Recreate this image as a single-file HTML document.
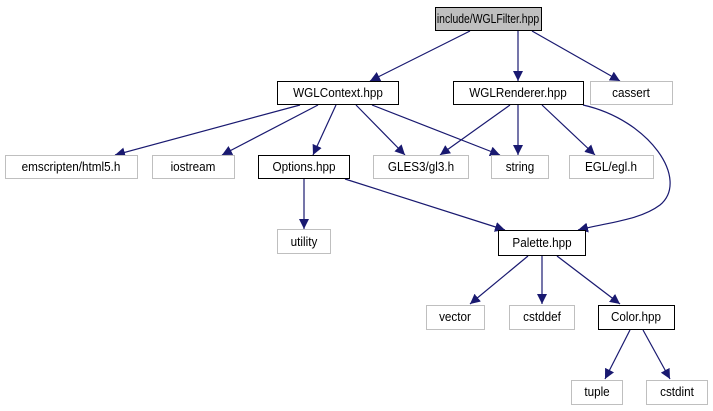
<!DOCTYPE html>
<html><head><meta charset="utf-8"><style>
html,body{margin:0;padding:0;background:#fff;}
svg{display:block;}
text{font-family:"Liberation Sans",sans-serif;font-size:13px;text-anchor:middle;fill:#000;}
</style></head><body>
<svg width="713" height="411" viewBox="0 0 713 411" xmlns="http://www.w3.org/2000/svg">
<defs>
<marker id="a" viewBox="0 0 10 10" refX="10" refY="5" markerWidth="10" markerHeight="10" markerUnits="userSpaceOnUse" orient="auto">
<path d="M0,0 L10,5 L0,10 z" fill="#191970"/>
</marker>
</defs>
<g stroke="#191970" stroke-width="1.2" fill="none" marker-end="url(#a)">
<line x1="470" y1="31" x2="370" y2="81"/>
<line x1="518" y1="31" x2="518" y2="81"/>
<line x1="532" y1="31" x2="620" y2="81"/>
<line x1="300" y1="105" x2="115" y2="155"/>
<line x1="318" y1="105" x2="222" y2="155"/>
<line x1="336" y1="105" x2="313" y2="155"/>
<line x1="356" y1="105" x2="405" y2="155"/>
<line x1="372" y1="105" x2="500" y2="155"/>
<line x1="510" y1="105" x2="440" y2="155"/>
<line x1="518" y1="105" x2="518" y2="155"/>
<line x1="542" y1="105" x2="595" y2="155"/>
<path d="M583,105 C650,120 690,180 660,205 C640,220 610,222 578,230"/>
<line x1="304" y1="179" x2="304" y2="229"/>
<line x1="345" y1="179" x2="505" y2="230"/>
<line x1="528" y1="256" x2="470" y2="304"/>
<line x1="542" y1="256" x2="542" y2="304"/>
<line x1="557" y1="256" x2="620" y2="304"/>
<line x1="630" y1="330" x2="605" y2="379"/>
<line x1="643" y1="330" x2="670" y2="379"/>
</g>
<g stroke-width="1">
<rect x="435.5" y="7.5" width="106" height="23" fill="#bfbfbf" stroke="#000"/>
<rect x="277.5" y="81.5" width="121" height="23" fill="#fff" stroke="#000"/>
<rect x="453.5" y="81.5" width="130" height="23" fill="#fff" stroke="#000"/>
<rect x="590.5" y="81.5" width="82" height="23" fill="#fff" stroke="#bfbfbf"/>
<rect x="5.5" y="155.5" width="132" height="23" fill="#fff" stroke="#bfbfbf"/>
<rect x="152.5" y="155.5" width="82" height="23" fill="#fff" stroke="#bfbfbf"/>
<rect x="258.5" y="155.5" width="91" height="23" fill="#fff" stroke="#000"/>
<rect x="373.5" y="155.5" width="95" height="23" fill="#fff" stroke="#bfbfbf"/>
<rect x="491.5" y="155.5" width="57" height="23" fill="#fff" stroke="#bfbfbf"/>
<rect x="569.5" y="155.5" width="84" height="23" fill="#fff" stroke="#bfbfbf"/>
<rect x="277.5" y="229.5" width="53" height="24" fill="#fff" stroke="#bfbfbf"/>
<rect x="498.5" y="230.5" width="87" height="25" fill="#fff" stroke="#000"/>
<rect x="426.5" y="305.5" width="58" height="24" fill="#fff" stroke="#bfbfbf"/>
<rect x="509.5" y="305.5" width="65" height="24" fill="#fff" stroke="#bfbfbf"/>
<rect x="598.5" y="305.5" width="76" height="24" fill="#fff" stroke="#000"/>
<rect x="571.5" y="380.5" width="51" height="24" fill="#fff" stroke="#bfbfbf"/>
<rect x="646.5" y="380.5" width="61" height="24" fill="#fff" stroke="#bfbfbf"/>
</g>
<g transform="translate(488,23) scale(0.8,1)"><text>include/WGLFilter.hpp</text></g>
<g transform="translate(338,97) scale(0.9,1)"><text>WGLContext.hpp</text></g>
<g transform="translate(518,97) scale(0.9,1)"><text>WGLRenderer.hpp</text></g>
<g transform="translate(631,97) scale(0.9,1)"><text>cassert</text></g>
<g transform="translate(71,171) scale(0.9,1)"><text>emscripten/html5.h</text></g>
<g transform="translate(193,171) scale(0.9,1)"><text>iostream</text></g>
<g transform="translate(304,171) scale(0.9,1)"><text>Options.hpp</text></g>
<g transform="translate(421,171) scale(0.9,1)"><text>GLES3/gl3.h</text></g>
<g transform="translate(520,171) scale(0.9,1)"><text>string</text></g>
<g transform="translate(611,171) scale(0.9,1)"><text>EGL/egl.h</text></g>
<g transform="translate(304,246) scale(0.9,1)"><text>utility</text></g>
<g transform="translate(542,247) scale(0.9,1)"><text>Palette.hpp</text></g>
<g transform="translate(455,321) scale(0.9,1)"><text>vector</text></g>
<g transform="translate(542,321) scale(0.9,1)"><text>cstddef</text></g>
<g transform="translate(636,321) scale(0.9,1)"><text>Color.hpp</text></g>
<g transform="translate(597,396) scale(0.9,1)"><text>tuple</text></g>
<g transform="translate(677,396) scale(0.9,1)"><text>cstdint</text></g>
</svg>
</body></html>
